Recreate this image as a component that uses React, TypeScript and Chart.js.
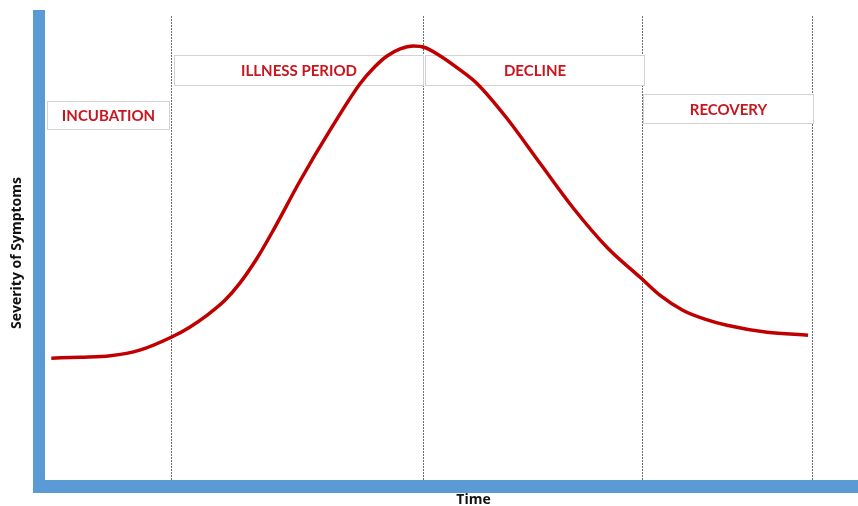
import React, { useEffect, useRef } from "react";
import { Chart, registerables } from "chart.js";

Chart.register(...registerables);

// ---- data ----
const timePoints = [1.5, 5.0, 8.7, 12.3, 16.2, 18.4, 20.5, 22.7, 24.5, 26.6, 28.6, 31.9, 35.5, 39.2, 41.0, 42.5, 44.1, 45.7, 47.1, 49.0, 51.2, 53.5, 57.1, 61.2, 65.2, 69.4, 73.4, 75.8, 78.6, 81.3, 84.0, 88.9, 93.9];
const severity = [27.2, 27.4, 27.7, 28.9, 31.7, 33.8, 36.3, 39.5, 43.1, 48.4, 54.4, 65.0, 75.6, 85.6, 89.2, 91.5, 93.0, 93.6, 93.3, 91.5, 88.8, 85.6, 78.3, 68.6, 59.2, 50.7, 44.4, 40.6, 37.4, 35.5, 34.2, 32.7, 32.1];
const phaseNames = ["INCUBATION", "ILLNESS PERIOD", "DECLINE", "RECOVERY"];
const phaseStarts = [0, 16.2, 47.0, 73.7];
const phaseEnds = [16.2, 47.0, 73.7, 94.4];
const xAxisTitle = "Time";
const yAxisTitle = "Severity of Symptoms";

// ---- layout (label boxes, in y-axis units) ----
const boxTop = [81.9, 91.7, 91.7, 83.4];
const boxBottom = [76.0, 85.4, 85.4, 77.3];
const boxInsetLeft = [8, 2, 1, 0];
const boxInsetRight = [3, 1, -1, -1];

const overlayPlugin = {
  id: "phaseOverlay",
  beforeDatasetsDraw(chart: any) {
    const { ctx, scales } = chart;
    const x = scales.x;
    const y = scales.y;
    ctx.save();
    phaseNames.forEach((name, i) => {
      const x1 = Math.round(x.getPixelForValue(phaseStarts[i]) + boxInsetLeft[i]) + 0.5;
      const x2 = Math.round(x.getPixelForValue(phaseEnds[i]) - boxInsetRight[i]) + 0.5;
      const y1 = Math.round(y.getPixelForValue(boxTop[i])) + 0.5;
      const y2 = Math.round(y.getPixelForValue(boxBottom[i])) + 0.5;
      ctx.fillStyle = "#ffffff";
      ctx.fillRect(x1, y1, x2 - x1, y2 - y1);
      ctx.strokeStyle = "#d3d3d3";
      ctx.lineWidth = 1;
      ctx.strokeRect(x1, y1, x2 - x1, y2 - y1);
      ctx.fillStyle = "#c8161e";
      ctx.font = "bold 15px Lato";
      ctx.textAlign = "center";
      ctx.textBaseline = "middle";
      ctx.fillText(name, (x1 + x2) / 2, (y1 + y2) / 2 + 1);
    });
    ctx.restore();
  },
  afterDraw(chart: any) {
    const { ctx, chartArea } = chart;
    ctx.save();
    ctx.fillStyle = "#111111";
    ctx.font = "bold 14px 'Open Sans'";
    ctx.textAlign = "center";
    ctx.textBaseline = "middle";
    ctx.fillText(xAxisTitle, (chartArea.left + chartArea.right) / 2 + 25, chartArea.bottom + 14);
    ctx.translate(chartArea.left - 21.5, (chartArea.top + chartArea.bottom) / 2 + 2);
    ctx.rotate(-Math.PI / 2);
    ctx.fillText(yAxisTitle, 0, 0);
    ctx.restore();
  },
};

export default function App() {
  const canvasRef = useRef<HTMLCanvasElement | null>(null);

  useEffect(() => {
    if (!canvasRef.current) return;
    const chart = new Chart(canvasRef.current, {
      type: "line",
      data: {
        datasets: [
          {
            data: timePoints.map((t, i) => ({ x: t, y: severity[i] })),
            borderColor: "#c00000",
            borderWidth: 3.5,
            pointRadius: 0,
            cubicInterpolationMode: "monotone",
            fill: false,
          },
        ],
      },
      options: {
        responsive: false,
        animation: false,
        layout: { padding: { left: 39, top: 16, right: 0, bottom: 20 } },
        plugins: { legend: { display: false }, tooltip: { enabled: false } },
        scales: {
          x: {
            type: "linear",
            min: 0,
            max: 100,
            afterBuildTicks: (scale: any) => {
              scale.ticks = phaseEnds.map((v) => ({ value: v }));
            },
            ticks: { display: false },
            grid: { color: "#6e6e6e", lineWidth: 1, drawTicks: false },
            border: { display: true, color: "#5b9bd5", width: 13, dash: [2, 1] },
          },
          y: {
            min: 0,
            max: 100,
            ticks: { display: false },
            grid: { display: false, drawTicks: false },
            border: { display: true, color: "#5b9bd5", width: 12 },
          },
        },
      },
      plugins: [overlayPlugin],
    } as any);
    return () => chart.destroy();
  }, []);

  return (
    <div style={{ position: "absolute", left: 0, top: 0, width: 858, height: 506, background: "#fff" }}>
      <canvas ref={canvasRef} width={858} height={506} />
    </div>
  );
}
